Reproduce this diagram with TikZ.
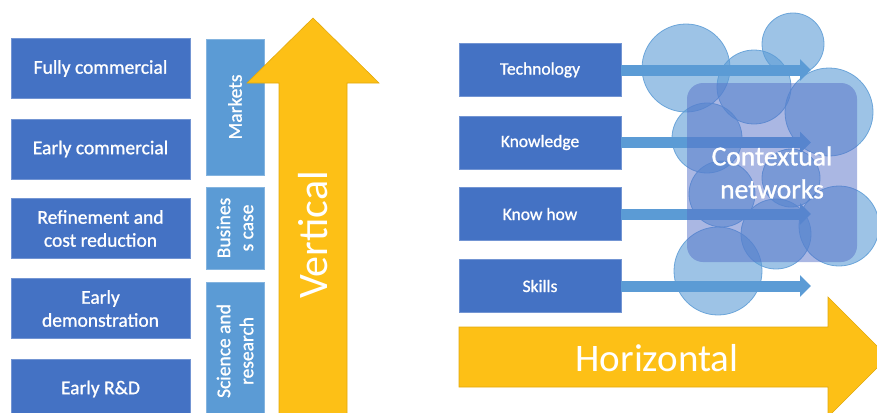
\documentclass[tikz,border=0pt]{standalone}
\usepackage{fontspec}
\setmainfont{Carlito}
\newfontfamily\boxfont{Carlito}[RawFeature={embolden=1}]
\usetikzlibrary{arrows.meta}

\definecolor{stagedark}{HTML}{4472C4}
\definecolor{stagelight}{HTML}{5B9BD5}
\definecolor{pushgold}{HTML}{FDC016}
\definecolor{pushedge}{HTML}{E3A90C}
\definecolor{netfill}{HTML}{5570C8}

\tikzset{
  stagebox/.style={fill=stagedark, draw=stagedark!75!white, line width=0.6pt,
    text=white, minimum width=179pt, minimum height=60pt, inner sep=0pt,
    align=center, font=\boxfont\fontsize{19.5}{23}\selectfont},
  phasebox/.style={fill=stagelight, draw=stagelight!75!white, line width=0.6pt,
    text=white, minimum height=58pt, inner sep=0pt, rotate=90,
    align=center, font=\boxfont\fontsize{19.5}{23}\selectfont},
  assetbox/.style={fill=stagedark, draw=stagedark!75!white, line width=0.6pt,
    text=white, minimum width=162pt, minimum height=53pt, inner sep=0pt,
    font=\boxfont\fontsize{17.5}{21}\selectfont},
  bubble/.style={fill=stagelight, fill opacity=0.6, draw=stagelight,
    draw opacity=0.85, line width=0.8pt},
  flow/.style={stagelight, line width=11pt, -{Triangle[length=11pt,width=21pt]}},
  push/.style={fill=pushgold, draw=pushedge, line width=0.6pt}
}

\begin{document}
\begin{tikzpicture}[x=1pt,y=-1pt]
\useasboundingbox (0,0) rectangle (877,412);
\clip (0,0) rectangle (877,412);

% Stages of development
\node[stagebox] (fully) at (100.5,68.5) {Fully commercial};
\node[stagebox] (earlycom) at (100.5,149) {Early commercial};
\node[stagebox] (refine) at (100.5,228.5) {Refinement and\\cost reduction};
\node[stagebox] (demo) at (100.5,308.5) {Early\\demonstration};
\node[stagebox] (rnd) at (100.5,389) {Early R\&D};

% What drives each stage
\node[phasebox,minimum width=136pt] (markets) at (235,107) {Markets};
\node[phasebox,minimum width=82pt] (business) at (235,228) {Busines\\s case};
\node[phasebox,minimum width=138pt] (science) at (235,351) {Science and\\research};

% Vertical arrow
\draw[push] (279,420) -- (279,83) -- (247,83) -- (313,18) -- (379,83)
  -- (347,83) -- (347,420) -- cycle;
\node[rotate=90,text=white,font=\fontsize{42}{46}\selectfont] (vlabel) at (313,235) {Vertical};

% Horizontal arrow
\draw[push] (459,327) -- (828,327) -- (828,297) -- (888,357) -- (828,417)
  -- (828,387) -- (459,387) -- cycle;
\node[text=white,font=\fontsize{39}{44}\selectfont] (hlabel) at (657,358) {Horizontal};

% Bubbles of the network
\filldraw[bubble] (686,68) circle (44pt);
\filldraw[bubble] (793,44) circle (31pt);
\filldraw[bubble] (754,87) circle (37pt);
\filldraw[bubble] (829,112) circle (44pt);
\filldraw[bubble] (707,138) circle (35pt);
\filldraw[bubble] (791,178) circle (29pt);
\filldraw[bubble] (722,194) circle (33pt);
\filldraw[bubble] (776,234) circle (35pt);
\filldraw[bubble] (839,226) circle (40pt);
\filldraw[bubble] (718,271) circle (44pt);

% What is passed on
\node[assetbox] (tech) at (540,70) {Technology};
\node[assetbox] (knowledge) at (540,142.5) {Knowledge};
\node[assetbox] (knowhow) at (540,214) {Know how};
\node[assetbox] (skills) at (540,286) {Skills};

\coordinate (netedge) at (811,0);
\draw[flow] (tech.east) -- (tech.east -| netedge);
\draw[flow] (knowledge.east) -- (knowledge.east -| netedge);
\draw[flow] (knowhow.east) -- (knowhow.east -| netedge);
\draw[flow] (skills.east) -- (skills.east -| netedge);

\node[fill=netfill, fill opacity=0.5, text opacity=1, rounded corners=16pt,
  minimum width=170pt, minimum height=179pt, text=white, align=center,
  font=\boxfont\fontsize{27.5}{33}\selectfont] (network) at (772,172.5)
  {Contextual\\networks};

\end{tikzpicture}
\end{document}
